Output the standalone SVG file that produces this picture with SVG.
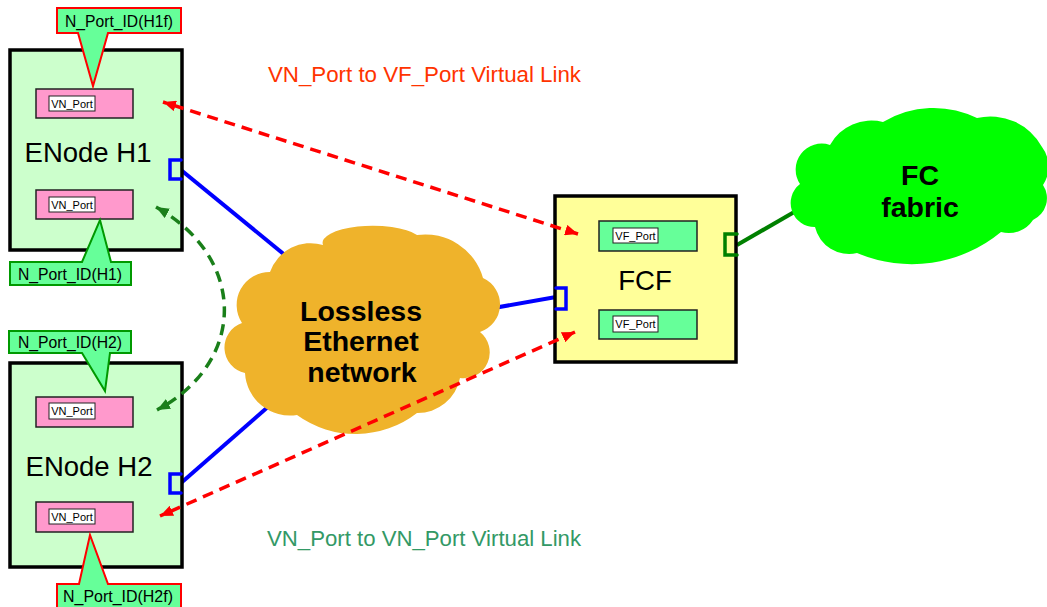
<svg xmlns="http://www.w3.org/2000/svg" width="1047" height="607" viewBox="0 0 1047 607">
<style>
  .box{stroke:#000;stroke-width:3.5}
  .enode{fill:#ccffcc}
  .vn{fill:#ff99cc;stroke:#222;stroke-width:1.5}
  .vf{fill:#66ff99;stroke:#222;stroke-width:1.5}
  .lbl{fill:#fff;stroke:#222;stroke-width:1}
  .small{font-family:"Liberation Sans",Arial,sans-serif;font-size:11px;fill:#000;text-anchor:middle}
  .big{font-family:"Liberation Sans",Arial,sans-serif;font-size:27.5px;fill:#000;text-anchor:middle}
  .bold{font-family:"Liberation Sans",Arial,sans-serif;font-size:28.5px;font-weight:bold;fill:#000;text-anchor:middle}
  .callout{font-family:"Liberation Sans",Arial,sans-serif;font-size:16.5px;fill:#000}
  .cred{fill:#66ff99;stroke:#ff0000;stroke-width:2}
  .cgreen{fill:#66ff99;stroke:#009900;stroke-width:2}
  .eth{fill:none;stroke:#0000ff;stroke-width:4}
  .port{fill:none;stroke:#0000ff;stroke-width:3.5;stroke-linecap:round;stroke-linejoin:miter}
  .gport{fill:none;stroke:#008000;stroke-width:3.5;stroke-linecap:round}
  .fc{fill:none;stroke:#008000;stroke-width:4}
  .vred{fill:none;stroke:#ff0000;stroke-width:3.5;stroke-dasharray:11 7}
  .vgreen{fill:none;stroke:#1a7f1a;stroke-width:3.5;stroke-dasharray:11 7}
  .title{font-family:"Liberation Sans",Arial,sans-serif;font-size:21.5px}
</style>
<defs>
  <marker id="ar" markerUnits="userSpaceOnUse" viewBox="0 0 12 10" refX="12" refY="5" markerWidth="13" markerHeight="11" orient="auto-start-reverse">
    <path d="M0,0 L12,5 L0,10 z" fill="#ff0000"/>
  </marker>
  <marker id="ag" markerUnits="userSpaceOnUse" viewBox="0 0 12 10" refX="12" refY="5" markerWidth="13" markerHeight="11" orient="auto-start-reverse">
    <path d="M0,0 L12,5 L0,10 z" fill="#1a7f1a"/>
  </marker>
</defs>
<rect width="1047" height="607" fill="#fff"/>

<g id="connectors">
  <line class="eth" x1="181" y1="170" x2="330" y2="292"/>
  <line class="eth" x1="181" y1="483" x2="310" y2="370"/>
  <line class="eth" x1="460" y1="314" x2="556" y2="297"/>
  <line class="fc" x1="737" y1="245" x2="815" y2="200"/>
</g>

<g id="lossless-ethernet">
  <path fill="#efb32b" d="M270,272 A43 43 0 0 1 323,245 A50 17 0 0 1 417,235 A60 60 0 0 1 483,278 A29 29 0 0 1 480,332 A26 26 0 0 1 460,378 A43 43 0 0 1 417,413 A100 100 0 0 1 297,415 A45 45 0 0 1 245,373 A26 26 0 0 1 242,323 A33 33 0 0 1 270,272 Z"/>
  <text class="bold" x="361" y="321">Lossless</text>
  <text class="bold" x="361" y="351">Ethernet</text>
  <text class="bold" x="362" y="382">network</text>
</g>

<g id="fc-fabric">
  <path fill="#00ff00" d="M800,184 A26 26 0 0 1 830,145 A47 47 0 0 1 883,122 A98 98 0 0 1 977,118 A59 59 0 0 1 1042,147 A33 33 0 0 1 1043,185 A24 24 0 0 1 1033,220 A29 29 0 0 1 1001,232 A140 140 0 0 1 857,253 A35 35 0 0 1 815,227 A24 24 0 0 1 800,184 Z"/>
  <text class="bold" x="920" y="185">FC</text>
  <text class="bold" x="920" y="217">fabric</text>
</g>

<g id="enode-h1">
  <rect class="box enode" x="10" y="50" width="172" height="200"/>
  <rect class="vn" x="36" y="89" width="97" height="29"/>
  <rect class="lbl" x="49" y="96" width="46" height="15"/>
  <text class="small" x="72" y="108">VN_Port</text>
  <rect class="vn" x="36" y="190" width="97" height="29"/>
  <rect class="lbl" x="49" y="197" width="46" height="15"/>
  <text class="small" x="72" y="209">VN_Port</text>
  <text class="big" x="88" y="162">ENode H1</text>
  <polyline class="port" points="181,160 170,160 170,179 181,179"/>
</g>

<g id="callout-h1f">
  <path class="cred" d="M57,8 H181 V33 H108 L93,86 L78,33 H57 Z"/>
  <text class="callout" x="65" y="27" textLength="108" lengthAdjust="spacingAndGlyphs">N_Port_ID(H1f)</text>
</g>

<g id="callout-h1">
  <path class="cgreen" d="M10,262 H82 L100,220 L111,262 H131 V285 H10 Z"/>
  <text class="callout" x="18" y="280" textLength="104" lengthAdjust="spacingAndGlyphs">N_Port_ID(H1)</text>
</g>

<g id="enode-h2">
  <rect class="box enode" x="10" y="363" width="172" height="204"/>
  <rect class="vn" x="36" y="397" width="97" height="30"/>
  <rect class="lbl" x="49" y="403" width="46" height="16"/>
  <text class="small" x="72" y="415">VN_Port</text>
  <rect class="vn" x="36" y="502" width="97" height="30"/>
  <rect class="lbl" x="49" y="509" width="46" height="15"/>
  <text class="small" x="72" y="521">VN_Port</text>
  <text class="big" x="89" y="476">ENode H2</text>
  <polyline class="port" points="181,474 170,474 170,493 181,493"/>
</g>

<g id="callout-h2">
  <path class="cgreen" d="M9,331 H131 V353 H110 L105,391 L82,353 H9 Z"/>
  <text class="callout" x="18" y="348" textLength="104" lengthAdjust="spacingAndGlyphs">N_Port_ID(H2)</text>
</g>

<g id="callout-h2f">
  <path class="cred" d="M57,584 H79 L90,535 L108,584 H181 V610 H57 Z"/>
  <text class="callout" x="63" y="602" textLength="110" lengthAdjust="spacingAndGlyphs">N_Port_ID(H2f)</text>
</g>

<g id="fcf">
  <rect class="box" fill="#ffff99" x="555" y="196" width="181" height="166"/>
  <rect class="vf" x="599" y="221" width="98" height="30"/>
  <rect class="lbl" x="613" y="228" width="45" height="15"/>
  <text class="small" x="635.5" y="240">VF_Port</text>
  <rect class="vf" x="599" y="310" width="98" height="29"/>
  <rect class="lbl" x="613" y="316" width="45" height="16"/>
  <text class="small" x="635.5" y="328">VF_Port</text>
  <text class="big" x="645" y="290">FCF</text>
  <polyline class="port" points="556,288 566,288 566,309 556,309"/>
  <polyline class="gport" points="737,234 725,234 725,255 737,255"/>
</g>

<g id="virtual-links">
  <line class="vred" x1="578" y1="234" x2="163" y2="102" marker-start="url(#ar)" marker-end="url(#ar)"/>
  <line class="vred" x1="575" y1="332" x2="160" y2="516" marker-start="url(#ar)" marker-end="url(#ar)"/>
  <path class="vgreen" d="M156,207 C247,258 247,362 157,410" marker-start="url(#ag)" marker-end="url(#ag)"/>
</g>

<text class="title" x="268" y="82" fill="#ff3300" textLength="313" lengthAdjust="spacingAndGlyphs">VN_Port to VF_Port Virtual Link</text>
<text class="title" x="267" y="546" fill="#339966" textLength="314" lengthAdjust="spacingAndGlyphs">VN_Port to VN_Port Virtual Link</text>
</svg>
